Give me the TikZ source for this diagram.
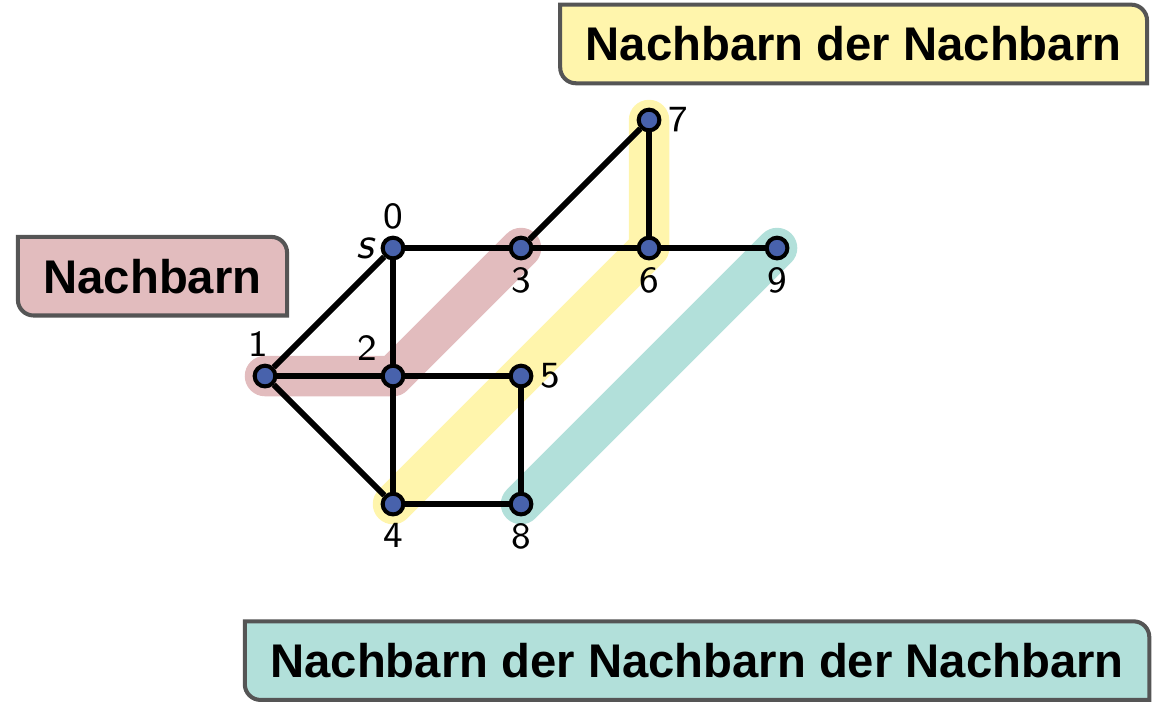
\documentclass[tikz,border=0pt]{standalone}
\usepackage{fontspec}
\newfontfamily\tagfont{Liberation Sans}
\usetikzlibrary{backgrounds}
\definecolor{redband}{RGB}{226,188,190}
\definecolor{yellowband}{RGB}{255,245,172}
\definecolor{tealband}{RGB}{178,224,218}
\definecolor{vertexblue}{RGB}{72,98,172}
\definecolor{framegray}{RGB}{85,85,85}
\begin{document}
\begin{tikzpicture}[
    vertex/.style={circle,draw=black,line width=0.9pt,fill=vertexblue,minimum size=4.6pt,inner sep=0pt},
    edge/.style={line width=1.3pt},
    band/.style={line width=9pt,line cap=round,line join=round},
    lbl/.style={font=\sffamily\fontsize{8.2}{8.2}\selectfont,inner sep=1.3pt},
    tag/.style={font=\tagfont\bfseries\fontsize{10.5}{12}\selectfont,inner xsep=5.5pt,minimum height=0.6cm},
    tagframe/.style={draw=framegray,line width=0.9pt}
  ]
  \useasboundingbox (-2.07,-1.539) rectangle (6.96,3.9375);
  % the graph
  \node[vertex,label={[lbl]above:0},label={[lbl,font=\sffamily\itshape\fontsize{10}{10}\selectfont]left:s}] (0) at (1,2) {};
  \node[vertex,label={[lbl,xshift=-1.5pt]above:1}] (1) at (0,1) {};
  \node[vertex,label={[lbl]above left:2}] (2) at (1,1) {};
  \node[vertex,label={[lbl]below:3}] (3) at (2,2) {};
  \node[vertex,label={[lbl]below:4}] (4) at (1,0) {};
  \node[vertex,label={[lbl]right:5}] (5) at (2,1) {};
  \node[vertex,label={[lbl]below:6}] (6) at (3,2) {};
  \node[vertex,label={[lbl]right:7}] (7) at (3,3) {};
  \node[vertex,label={[lbl]below:8}] (8) at (2,0) {};
  \node[vertex,label={[lbl]below:9}] (9) at (4,2) {};
  % the tags
  \node[tag] (nb) at (-0.879,1.78) {Nachbarn};
  \node[tag] (nnb) at (4.598,3.594) {Nachbarn der Nachbarn};
  \node[tag] (nnnb) at (3.375,-1.223) {Nachbarn der Nachbarn der Nachbarn};
  \begin{scope}[on background layer]
    \draw[band,redband] (1.center) -- (2.center) -- (3.center);
    \draw[band,yellowband] (7.center) -- (6.center) -- (4.center);
    \draw[band,tealband] (9.center) -- (8.center);
    \draw[edge] (0) -- (1);
    \draw[edge] (0) -- (2);
    \draw[edge] (0) -- (3);
    \draw[edge] (1) -- (2);
    \draw[edge] (1) -- (4);
    \draw[edge] (2) -- (5);
    \draw[edge] (2) -- (4);
    \draw[edge] (3) -- (6);
    \draw[edge] (3) -- (7);
    \draw[edge] (6) -- (7);
    \draw[edge] (6) -- (9);
    \draw[edge] (5) -- (8);
    \draw[edge] (4) -- (8);
    \foreach \t/\c in {nb/redband,nnb/yellowband,nnnb/tealband}
      \draw[tagframe,fill=\c] (\t.north west) -- ([xshift=-3.5pt]\t.north east)
        arc[start angle=90,end angle=0,radius=3.5pt] -- (\t.south east)
        -- ([xshift=3.5pt]\t.south west) arc[start angle=270,end angle=180,radius=3.5pt] -- cycle;
  \end{scope}
\end{tikzpicture}
\end{document}
